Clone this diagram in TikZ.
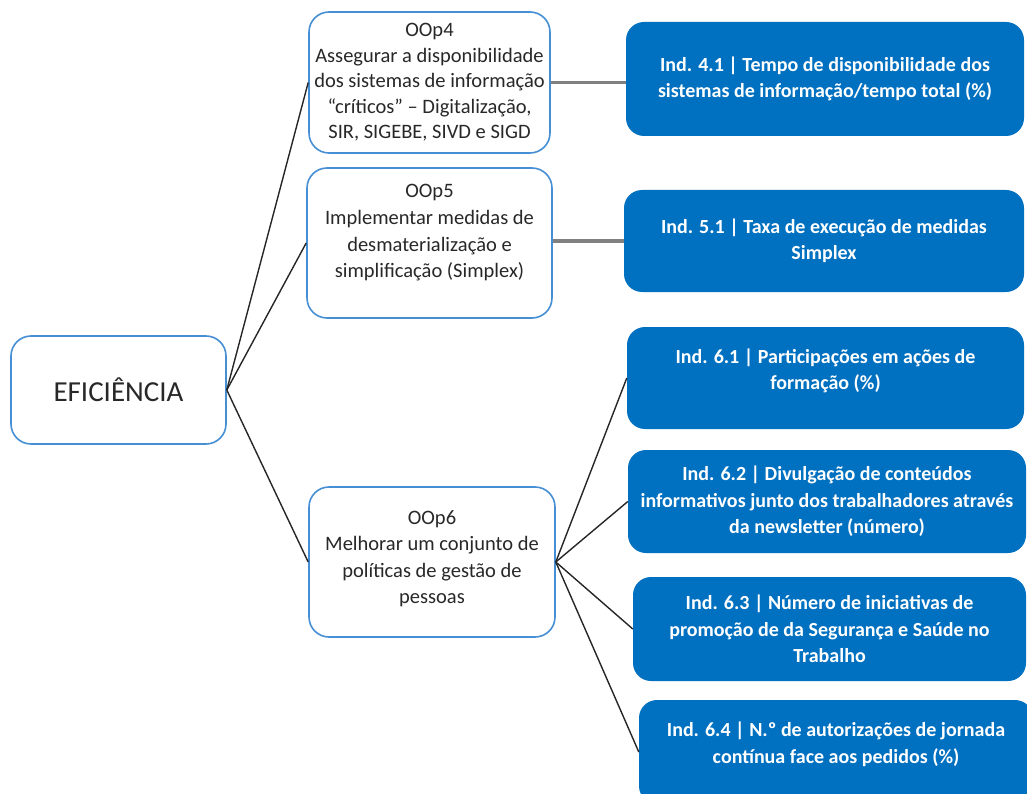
\documentclass[tikz,border=0pt]{standalone}
\usepackage{fontspec}
\setmainfont{Carlito}
\usepackage{tikz}
\usetikzlibrary{positioning}

\definecolor{objborder}{RGB}{70,143,212}
\definecolor{indfill}{RGB}{0,112,192}
\definecolor{objtext}{RGB}{40,40,40}

\begin{document}
\begin{tikzpicture}[x = 1pt, y = -1pt]
  \tikzset{
    objbox/.style = {draw = objborder, line width = 1.6pt, rounded corners = 20pt, fill = white,
      text = objtext, align = center, inner sep = 0pt, font = \fontsize{20.5}{25.5}\selectfont},
    indbox/.style = {fill = indfill, rounded corners = 18pt, text = white, align = center,
      inner sep = 0pt, font = \fontsize{20}{26.5}\selectfont\bfseries},
    linkthin/.style = {draw = black!85, line width = 1.4pt},
    linkgray/.style = {draw = black!50, line width = 3.2pt}
  }

  \useasboundingbox (0,0) rectangle (1027,794);
  \clip (0,0) rectangle (1027,794);

  \node[objbox, minimum width = 215pt, minimum height = 108pt, font = \fontsize{29}{32}\selectfont] (Eficiencia) at (118.5,390) {EFICIÊNCIA};

  \node[objbox, minimum width = 241pt, minimum height = 141pt] (OOp4) at (429.5,82.5)
    {OOp4\\Assegurar a disponibilidade\\dos sistemas de informação\\“críticos” – Digitalização,\\SIR, SIGEBE, SIVD e SIGD};
  \node[objbox, minimum width = 245pt, minimum height = 150pt, font = \fontsize{20.5}{26.7}\selectfont] (OOp5) at (429.5,243)
    {OOp5\\Implementar medidas de\\desmaterialização e\\simplificação (Simplex)\\[-2.7pt]};
  \node[objbox, minimum width = 246pt, minimum height = 150pt, font = \fontsize{20.5}{26.5}\selectfont] (OOp6) at (432,562)
    {OOp6\\Melhorar um conjunto de\\políticas de gestão de\\pessoas\\[-16.5pt]};

  \node[indbox, minimum width = 398pt, minimum height = 114pt] (Ind41) at (825,79)
    {Ind. 4.1 | Tempo de disponibilidade dos\\sistemas de informação/tempo total (\%)};
  \node[indbox, minimum width = 400pt, minimum height = 102pt] (Ind51) at (824,241)
    {Ind. 5.1 | Taxa de execução de medidas\\Simplex};
  \node[indbox, minimum width = 397pt, minimum height = 102pt] (Ind61) at (825.5,378)
    {Ind. 6.1 | Participações em ações de\\formação (\%)\\[-9pt]};
  \node[indbox, minimum width = 398pt, minimum height = 103pt] (Ind62) at (827,501.5)
    {Ind. 6.2 | Divulgação de conteúdos\\informativos junto dos trabalhadores através\\da newsletter (número)};
  \node[indbox, minimum width = 393pt, minimum height = 104pt] (Ind63) at (829.5,629)
    {Ind. 6.3 | Número de iniciativas de\\promoção de da Segurança e Saúde no\\Trabalho};
  \node[indbox, minimum width = 394pt, minimum height = 104pt] (Ind64) at (836,752)
    {Ind. 6.4 | N.º de autorizações de jornada\\contínua face aos pedidos (\%)\\[-8pt]};

  % ligacoes
  \draw[linkthin] (Eficiencia.east) -- (OOp4.west);
  \draw[linkthin] (Eficiencia.east) -- (OOp5.west);
  \draw[linkthin] (Eficiencia.east) -- (OOp6.west);

  \draw[linkgray] (OOp4.east) -- (OOp4.east -| Ind41.west);
  \draw[linkgray] (Ind51.west -| OOp5.east) -- (Ind51.west);

  \draw[linkthin] (OOp6.east) -- (Ind61.west);
  \draw[linkthin] (OOp6.east) -- (Ind62.west);
  \draw[linkthin] (OOp6.east) -- (Ind63.west);
  \draw[linkthin] (OOp6.east) -- (Ind64.west);
\end{tikzpicture}
\end{document}
